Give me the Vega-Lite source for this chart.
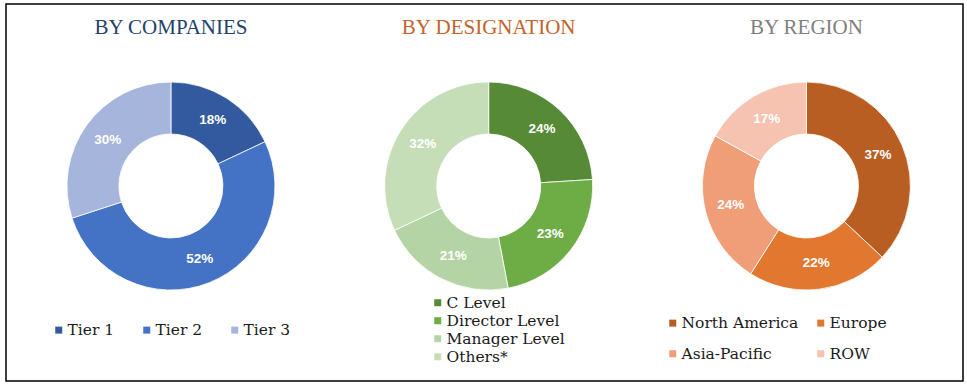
{
  "$schema": "https://vega.github.io/schema/vega-lite/v6.json",
  "width": 967,
  "height": 385,
  "autosize": {"type": "fit", "contains": "padding"},
  "padding": {"left": 6, "top": 4, "right": 4, "bottom": 4},
  "background": "white",
  "config": {
    "view": {"stroke": "#000000", "strokeWidth": 1.5},
    "legend": {
      "orient": "none",
      "title": null,
      "symbolType": "square",
      "symbolSize": 49,
      "symbolStrokeWidth": 0,
      "labelFont": "DejaVu Serif",
      "labelFontSize": 15.5,
      "labelColor": "#1a1a1a",
      "labelOffset": 1,
      "padding": 0,
      "labelLimit": 300
    }
  },
  "datasets": {
    "companies": [
      {"chart": "Companies", "k": "Tier 1", "v": 0.18, "i": 1},
      {"chart": "Companies", "k": "Tier 2", "v": 0.52, "i": 2},
      {"chart": "Companies", "k": "Tier 3", "v": 0.30, "i": 3}
    ],
    "designation": [
      {"chart": "Designation", "k": "C Level", "v": 0.24, "i": 1},
      {"chart": "Designation", "k": "Director  Level", "v": 0.23, "i": 2},
      {"chart": "Designation", "k": "Manager Level", "v": 0.21, "i": 3},
      {"chart": "Designation", "k": "Others*", "v": 0.32, "i": 4}
    ],
    "region": [
      {"chart": "Region", "k": "North America", "v": 0.37, "i": 1},
      {"chart": "Region", "k": "Europe", "v": 0.22, "i": 2},
      {"chart": "Region", "k": "Asia-Pacific", "v": 0.24, "i": 3},
      {"chart": "Region", "k": "ROW", "v": 0.17, "i": 4}
    ],
    "titles": [
      {"chart": "Companies", "t": "BY COMPANIES"},
      {"chart": "Designation", "t": "BY DESIGNATION"},
      {"chart": "Region", "t": "BY REGION"}
    ]
  },
  "encoding": {
    "x": {"field": "chart", "type": "nominal", "axis": null,
          "scale": {"type": "point", "domain": ["Companies", "Designation", "Region"], "padding": 0.506, "align": 0.513}}
  },
  "layer": [
    {
      "data": {"name": "titles"},
      "mark": {"type": "text", "font": "Liberation Serif", "fontSize": 21, "baseline": "middle", "align": "center"},
      "encoding": {
        "y": {"datum": "title", "type": "nominal", "axis": null,
              "scale": {"type": "point", "domain": ["title", "donut"], "padding": 0.693, "align": 0.1096}},
        "text": {"field": "t"},
        "color": {"field": "chart", "type": "nominal", "legend": null,
                  "scale": {"domain": ["Companies", "Designation", "Region"], "range": ["#24426B", "#C4642A", "#808080"]}}
      }
    },
    {
      "data": {"name": "companies"},
      "mark": {"type": "arc", "radius": 104, "radius2": 52, "stroke": "#ffffff", "strokeWidth": 0.8},
      "encoding": {
        "y": {"datum": "donut", "type": "nominal"},
        "theta": {"field": "v", "type": "quantitative", "stack": true},
        "order": {"field": "i"},
        "color": {"field": "k", "type": "nominal",
                  "scale": {"domain": ["Tier 1", "Tier 2", "Tier 3"], "range": ["#335A9E", "#4472C4", "#A6B5DB"]},
                  "legend": {"legendX": 45, "legendY": 318, "direction": "horizontal", "columns": 3, "columnPadding": 24}}
      }
    },
    {
      "data": {"name": "companies"},
      "mark": {"type": "text", "radius": 78, "font": "Liberation Sans", "fontWeight": "bold", "fontSize": 13.5, "color": "#ffffff"},
      "encoding": {
        "y": {"datum": "donut", "type": "nominal"},
        "theta": {"field": "v", "type": "quantitative", "stack": true},
        "order": {"field": "i"},
        "text": {"field": "v", "type": "quantitative", "format": ".0%"}
      }
    },
    {
      "data": {"name": "designation"},
      "mark": {"type": "arc", "radius": 104, "radius2": 52, "stroke": "#ffffff", "strokeWidth": 0.8},
      "encoding": {
        "y": {"datum": "donut", "type": "nominal"},
        "theta": {"field": "v", "type": "quantitative", "stack": true},
        "order": {"field": "i"},
        "color": {"field": "k", "type": "nominal",
                  "scale": {"domain": ["C Level", "Director  Level", "Manager Level", "Others*"], "range": ["#578A36", "#6EAD46", "#B4D4A5", "#C5DEB7"]},
                  "legend": {"legendX": 424, "legendY": 291, "direction": "vertical", "columns": 1, "rowPadding": 1}}
      }
    },
    {
      "data": {"name": "designation"},
      "mark": {"type": "text", "radius": 78, "font": "Liberation Sans", "fontWeight": "bold", "fontSize": 13.5, "color": "#ffffff"},
      "encoding": {
        "y": {"datum": "donut", "type": "nominal"},
        "theta": {"field": "v", "type": "quantitative", "stack": true},
        "order": {"field": "i"},
        "text": {"field": "v", "type": "quantitative", "format": ".0%"}
      }
    },
    {
      "data": {"name": "region"},
      "mark": {"type": "arc", "radius": 104, "radius2": 52, "stroke": "#ffffff", "strokeWidth": 0.8},
      "encoding": {
        "y": {"datum": "donut", "type": "nominal"},
        "theta": {"field": "v", "type": "quantitative", "stack": true},
        "order": {"field": "i"},
        "color": {"field": "k", "type": "nominal",
                  "scale": {"domain": ["North America", "Europe", "Asia-Pacific", "ROW"], "range": ["#B95E23", "#E2782F", "#F09E77", "#F5C3AF"]},
                  "legend": {"legendX": 659, "legendY": 311, "direction": "horizontal", "columns": 2, "rowPadding": 14, "columnPadding": 14}}
      }
    },
    {
      "data": {"name": "region"},
      "mark": {"type": "text", "radius": 78, "font": "Liberation Sans", "fontWeight": "bold", "fontSize": 13.5, "color": "#ffffff"},
      "encoding": {
        "y": {"datum": "donut", "type": "nominal"},
        "theta": {"field": "v", "type": "quantitative", "stack": true},
        "order": {"field": "i"},
        "text": {"field": "v", "type": "quantitative", "format": ".0%"}
      }
    }
  ],
  "resolve": {"scale": {"color": "independent"}, "legend": {"color": "independent"}}
}
